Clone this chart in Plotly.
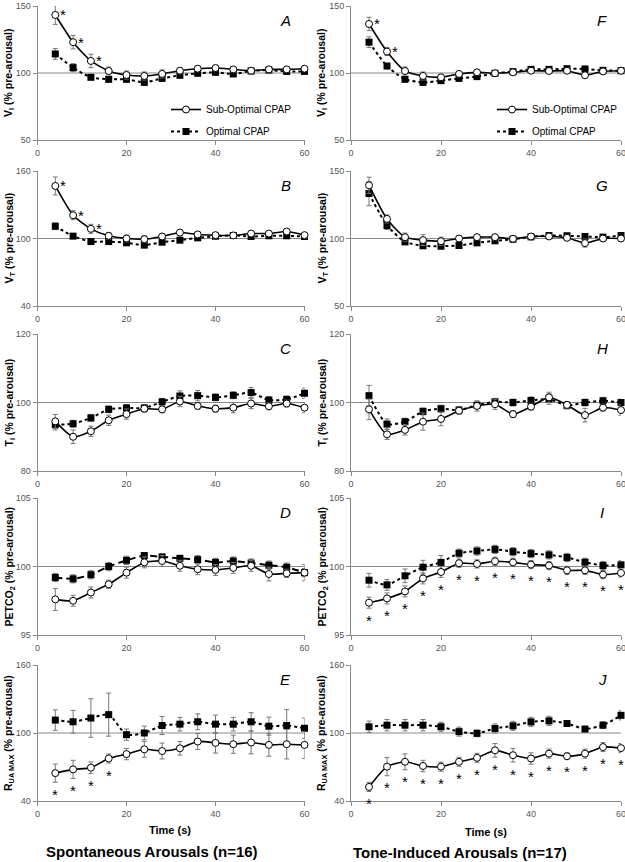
import plotly.graph_objects as go

FONT = "Liberation Sans, Arial, sans-serif"

time_s = [4, 8, 12, 16, 20, 24, 28, 32, 36, 40, 44, 48, 52, 56, 60]
x_ticks = [0, 20, 40, 60]

# ---- Spontaneous arousals (left column) ----
vi_spont_sub = [143.3, 123.0, 109.0, 101.5, 98.5, 97.8, 99.3, 101.7, 103.2, 103.7, 102.7, 101.7, 102.7, 102.7, 103.2]
vi_spont_sub_err = [7, 5, 5, 3, 3, 3, 3, 2, 2, 2, 2, 2, 2, 2, 2]
vi_spont_opt = [114.2, 104.0, 96.8, 95.3, 95.3, 93.0, 96.0, 98.3, 99.8, 100.5, 99.3, 101.5, 102.2, 101.2, 101.2]
vi_spont_opt_err = [4, 3, 2, 2, 2, 2, 2, 2, 2, 2, 2, 2, 2, 2, 2]

vt_spont_sub = [146.7, 120.7, 108.6, 102.4, 100.0, 99.4, 101.8, 105.3, 103.6, 103.0, 102.7, 104.4, 104.4, 106.2, 103.0]
vt_spont_sub_err = [8, 4, 4, 3, 3, 3, 2, 2, 2, 2, 2, 2, 2, 2, 2]
vt_spont_opt = [110.9, 102.1, 97.3, 97.3, 96.2, 94.1, 96.7, 98.5, 100.6, 102.0, 102.7, 101.8, 102.4, 102.4, 101.8]
vt_spont_opt_err = [3, 2, 2, 2, 2, 2, 2, 2, 2, 2, 2, 2, 2, 2, 2]

ti_spont_sub = [94.5, 90.0, 91.6, 94.8, 96.6, 98.2, 98.0, 100.3, 99.0, 98.2, 98.5, 99.7, 98.9, 99.7, 98.5]
ti_spont_sub_err = [2, 2, 1.5, 1.5, 1.5, 1, 1, 1.5, 1, 1, 1.5, 1.5, 1, 1, 1.5]
ti_spont_opt = [93.5, 93.8, 95.5, 98.0, 98.4, 98.4, 100.2, 101.9, 102.0, 101.5, 102.1, 102.9, 100.7, 100.9, 102.7]
ti_spont_opt_err = [1.5, 1, 1, 1, 1, 1, 1, 1.5, 1.5, 1, 1, 1.5, 1, 1, 1.5]

pet_spont_sub = [97.6, 97.5, 98.1, 98.7, 99.55, 100.3, 100.4, 100.05, 99.8, 99.75, 99.9, 100.05, 99.45, 99.5, 99.55]
pet_spont_sub_err = [0.8, 0.4, 0.4, 0.3, 0.4, 0.4, 0.4, 0.4, 0.4, 0.4, 0.4, 0.4, 0.5, 0.3, 0.6]
pet_spont_opt = [99.2, 99.1, 99.4, 100.0, 100.45, 100.8, 100.7, 100.6, 100.5, 100.3, 100.4, 100.25, 100.1, 99.95, 99.55]
pet_spont_opt_err = [0.3, 0.3, 0.3, 0.3, 0.3, 0.2, 0.2, 0.2, 0.3, 0.3, 0.3, 0.3, 0.3, 0.3, 0.3]

rua_spont_sub = [64.6, 67.9, 69.4, 77.5, 81.4, 85.6, 84.1, 86.5, 92.5, 91.3, 90.1, 91.6, 89.5, 90.1, 89.5]
rua_spont_sub_err = [8, 8, 5, 4, 5, 7, 7, 6, 7, 9, 8, 10, 10, 13, 12]
rua_spont_opt = [111.4, 109.9, 113.2, 116.2, 98.5, 100.0, 106.6, 107.8, 109.9, 107.8, 107.8, 109.9, 106.0, 106.6, 104.2]
rua_spont_opt_err = [9, 10, 17, 19, 5, 6, 8, 6, 7, 8, 6, 8, 8, 14, 9]

# ---- Tone-induced arousals (right column) ----
vi_tone_sub = [136.6, 116.0, 101.5, 97.8, 96.8, 99.3, 100.5, 99.8, 100.5, 101.7, 101.5, 101.7, 98.3, 101.2, 101.7]
vi_tone_sub_err = [5, 3, 3, 3, 2, 2, 2, 2, 2, 2, 2, 2, 2, 2, 2]
vi_tone_opt = [123.0, 105.2, 95.3, 93.0, 94.3, 96.0, 97.3, 99.8, 101.0, 102.7, 102.7, 103.2, 103.0, 102.0, 101.7]
vi_tone_opt_err = [4, 2, 2, 2, 2, 2, 2, 2, 2, 2, 2, 2, 2, 2, 2]

vt_tone_sub = [139.4, 114.5, 101.0, 98.8, 98.0, 100.0, 101.0, 101.0, 99.8, 101.5, 101.5, 100.5, 96.6, 100.0, 100.0]
vt_tone_sub_err = [6, 3, 3, 4, 3, 2, 2, 2, 2, 2, 2, 2, 3, 2, 2]
vt_tone_opt = [133.3, 109.6, 97.5, 94.6, 94.3, 94.8, 96.8, 98.3, 99.5, 101.2, 102.2, 102.0, 101.5, 101.0, 102.2]
vt_tone_opt_err = [9, 3, 2, 2, 2, 2, 2, 2, 2, 2, 2, 2, 2, 2, 2]

ti_tone_sub = [98.0, 90.7, 92.0, 94.4, 95.2, 97.6, 99.0, 99.5, 96.6, 98.8, 101.5, 99.3, 96.3, 98.5, 97.8]
ti_tone_sub_err = [3, 1.5, 1.5, 2.5, 2, 1, 1.5, 1.5, 1, 1, 1.5, 1, 2, 1, 1.5]
ti_tone_opt = [102.0, 93.7, 94.4, 97.4, 98.2, 97.8, 99.2, 100.2, 100.0, 100.6, 101.0, 99.1, 100.0, 100.5, 100.0]
ti_tone_opt_err = [3, 1.5, 1, 1, 1, 1, 1, 1, 1, 1, 1.5, 1, 1, 1, 1]

pet_tone_sub = [97.36, 97.67, 98.18, 99.13, 99.6, 100.24, 100.19, 100.38, 100.3, 100.14, 100.07, 99.72, 99.72, 99.41, 99.53]
pet_tone_sub_err = [0.4, 0.4, 0.4, 0.4, 0.4, 0.3, 0.3, 0.3, 0.3, 0.3, 0.3, 0.3, 0.3, 0.3, 0.3]
pet_tone_opt = [99.0, 98.66, 99.32, 99.95, 100.3, 100.97, 101.13, 101.25, 101.08, 100.94, 100.85, 100.66, 100.31, 100.07, 100.12]
pet_tone_opt_err = [0.5, 0.4, 0.5, 0.5, 0.5, 0.3, 0.3, 0.3, 0.3, 0.3, 0.3, 0.3, 0.3, 0.3, 0.3]

rua_tone_sub = [52.4, 70.3, 74.6, 70.9, 70.3, 74.6, 78.1, 84.7, 80.4, 77.5, 81.8, 79.5, 81.8, 87.6, 86.7]
rua_tone_sub_err = [4, 8, 7, 5, 4, 4, 4, 6, 6, 5, 4, 3, 4, 4, 4]
rua_tone_opt = [105.5, 106.9, 106.9, 106.9, 105.5, 101.2, 99.7, 104.0, 106.3, 109.8, 110.7, 108.4, 103.5, 106.9, 115.6]
rua_tone_opt_err = [5, 5, 5, 5, 4, 4, 3, 4, 4, 4, 4, 2, 2, 3, 4]

# significance markers (indices into time_s)
stars_A = [0, 1, 2]
stars_B = [0, 1, 2]
stars_E = [0, 1, 2, 3]
stars_F = [0, 1]
stars_I = list(range(15))
stars_J = list(range(15))

W, H = 625, 862


def px(v):
    return v / W


def py(v):
    return 1 - v / H


col_domains = [[px(37.5), px(304.5)], [px(351), px(621)]]
row_pix = [(6, 140), (171, 306), (334, 471), (498, 635), (665, 801)]
row_domains = [[py(b), py(t)] for t, b in row_pix]

panels = [
    dict(letter="A", col=0, row=0, ylab="V<sub>I</sub> (% pre-arousal)", rng=[50, 150], ticks=[50, 100, 150],
         sub=vi_spont_sub, sube=vi_spont_sub_err, opt=vi_spont_opt, opte=vi_spont_opt_err, stars=stars_A, pos="above", dash="3px,3px", leg="legend"),
    dict(letter="B", col=0, row=1, ylab="V<sub>T</sub> (% pre-arousal)", rng=[40, 160], ticks=[40, 100, 160],
         sub=vt_spont_sub, sube=vt_spont_sub_err, opt=vt_spont_opt, opte=vt_spont_opt_err, stars=stars_B, pos="above", dash="3px,3px", leg=None),
    dict(letter="C", col=0, row=2, ylab="T<sub>I</sub> (% pre-arousal)", rng=[80, 120], ticks=[80, 100, 120],
         sub=ti_spont_sub, sube=ti_spont_sub_err, opt=ti_spont_opt, opte=ti_spont_opt_err, stars=[], pos="below", dash="3px,3px", leg=None),
    dict(letter="D", col=0, row=3, ylab="PETCO<sub>2</sub> (% pre-arousal)", rng=[95, 105], ticks=[95, 100, 105],
         sub=pet_spont_sub, sube=pet_spont_sub_err, opt=pet_spont_opt, opte=pet_spont_opt_err, stars=[], pos="below", dash="7px,4px", leg=None),
    dict(letter="E", col=0, row=4, ylab="R<sub>UA MAX</sub> (% pre-arousal)", rng=[40, 160], ticks=[40, 100, 160],
         sub=rua_spont_sub, sube=rua_spont_sub_err, opt=rua_spont_opt, opte=rua_spont_opt_err, stars=stars_E, pos="below", dash="3px,3px", leg=None),
    dict(letter="F", col=1, row=0, ylab="V<sub>I</sub> (% pre-arousal)", rng=[50, 150], ticks=[50, 100, 150],
         sub=vi_tone_sub, sube=vi_tone_sub_err, opt=vi_tone_opt, opte=vi_tone_opt_err, stars=stars_F, pos="above", dash="3px,3px", leg="legend2"),
    dict(letter="G", col=1, row=1, ylab="V<sub>T</sub> (% pre-arousal)", rng=[50, 150], ticks=[50, 100, 150],
         sub=vt_tone_sub, sube=vt_tone_sub_err, opt=vt_tone_opt, opte=vt_tone_opt_err, stars=[], pos="above", dash="3px,3px", leg=None),
    dict(letter="H", col=1, row=2, ylab="T<sub>I</sub> (% pre-arousal)", rng=[80, 120], ticks=[80, 100, 120],
         sub=ti_tone_sub, sube=ti_tone_sub_err, opt=ti_tone_opt, opte=ti_tone_opt_err, stars=[], pos="below", dash="3px,3px", leg=None),
    dict(letter="I", col=1, row=3, ylab="PETCO<sub>2</sub> (% pre-arousal)", rng=[95, 105], ticks=[95, 100, 105],
         sub=pet_tone_sub, sube=pet_tone_sub_err, opt=pet_tone_opt, opte=pet_tone_opt_err, stars=stars_I, pos="below", dash="3px,3px", leg=None),
    dict(letter="J", col=1, row=4, ylab="R<sub>UA MAX</sub> (% pre-arousal)", rng=[40, 160], ticks=[40, 100, 160],
         sub=rua_tone_sub, sube=rua_tone_sub_err, opt=rua_tone_opt, opte=rua_tone_opt_err, stars=stars_J, pos="below", dash="3px,3px", leg=None),
]

fig = go.Figure()
annotations = []
shapes = []
layout_axes = {}

for i, p in enumerate(panels):
    n = i + 1
    sfx = "" if n == 1 else str(n)
    xs, ys = "x" + sfx, "y" + sfx
    layout_axes["xaxis" + sfx] = dict(
        domain=col_domains[p["col"]], anchor=ys, range=[0, 60], tickvals=x_ticks,
        showline=True, linecolor="#8a8a8a", linewidth=1, ticks="outside", ticklen=4,
        tickcolor="#8a8a8a", showgrid=False, zeroline=False, automargin=False,
        ticklabeloverflow="allow",
        tickfont=dict(size=9, color="#555", family=FONT), fixedrange=True,
    )
    layout_axes["yaxis" + sfx] = dict(
        domain=row_domains[p["row"]], anchor=xs, range=p["rng"], tickvals=p["ticks"],
        showline=True, linecolor="#8a8a8a", linewidth=1, ticks="outside", ticklen=4,
        tickcolor="#8a8a8a", showgrid=False, zeroline=False, automargin=False,
        ticklabeloverflow="allow",
        tickfont=dict(size=9, color="#555", family=FONT), fixedrange=True,
    )
    shapes.append(dict(type="line", xref=xs + " domain", yref=ys, x0=0, x1=1, y0=100, y1=100,
                       line=dict(color="#8a8a8a", width=1), layer="below"))
    show = p["leg"] is not None
    legname = p["leg"] if show else "legend"
    fig.add_trace(go.Scatter(
        x=time_s, y=p["opt"], xaxis=xs, yaxis=ys, name="Optimal CPAP",
        mode="lines+markers", cliponaxis=False,
        error_y=dict(type="data", array=p["opte"], color="#777", thickness=1, width=2.5),
        line=dict(color="black", width=2, dash=p["dash"], shape="spline", smoothing=0.6),
        marker=dict(symbol="square", size=7, color="black", line=dict(width=0)),
        showlegend=show, legend=legname, legendrank=2, legendgroup="opt" + sfx,
    ))
    fig.add_trace(go.Scatter(
        x=time_s, y=p["sub"], xaxis=xs, yaxis=ys, name="Sub-Optimal CPAP",
        mode="lines+markers", cliponaxis=False,
        error_y=dict(type="data", array=p["sube"], color="#777", thickness=1, width=2.5),
        line=dict(color="black", width=1.6, shape="spline", smoothing=0.6),
        marker=dict(symbol="circle", size=7, color="white", line=dict(color="black", width=1)),
        showlegend=show, legend=legname, legendrank=1, legendgroup="sub" + sfx,
    ))
    # panel letter
    annotations.append(dict(text="<i>%s</i>" % p["letter"], xref=xs + " domain", yref=ys + " domain",
                            x=0.93, y=0.895, xanchor="center", yanchor="middle", showarrow=False,
                            font=dict(size=15, color="black", family=FONT)))
    # y title
    xc = 9 if p["col"] == 0 else 322
    t, b = row_pix[p["row"]]
    annotations.append(dict(text="<b>%s</b>" % p["ylab"], xref="paper", yref="paper",
                            x=px(xc), y=py((t + b) / 2), textangle=-90, showarrow=False,
                            xanchor="center", yanchor="middle",
                            font=dict(size=10.5, color="black", family=FONT)))
    # significance stars
    for k in p["stars"]:
        if p["pos"] == "above":
            annotations.append(dict(text="*", xref=xs, yref=ys, x=time_s[k], y=p["sub"][k],
                                    xshift=8, yshift=0, showarrow=False, xanchor="center", yanchor="middle",
                                    font=dict(size=15, color="black", family=FONT)))
        else:
            annotations.append(dict(text="*", xref=xs, yref=ys, x=time_s[k], y=p["sub"][k] - p["sube"][k],
                                    xshift=0, yshift=-12, showarrow=False, xanchor="center", yanchor="middle",
                                    font=dict(size=15, color="black", family=FONT)))

# bottom labels
for xc, yc, txt, sz in [(170, 830, "Time (s)", 11), (486, 832, "Time (s)", 11),
                        (152, 851, "Spontaneous Arousals (n=16)", 15),
                        (460, 852, "Tone-Induced Arousals (n=17)", 15)]:
    annotations.append(dict(text="<b>%s</b>" % txt, xref="paper", yref="paper", x=px(xc), y=py(yc),
                            xanchor="center", yanchor="middle",
                            showarrow=False, font=dict(size=sz, color="black", family=FONT)))

leg_common = dict(xanchor="left", yanchor="top", bgcolor="rgba(0,0,0,0)", itemwidth=30,
                  font=dict(size=10, color="black", family=FONT), traceorder="grouped", tracegroupgap=3)

fig.update_layout(
    width=W, height=H, margin=dict(l=0, r=0, t=0, b=0),
    paper_bgcolor="white", plot_bgcolor="white",
    font=dict(family=FONT),
    annotations=annotations, shapes=shapes,
    legend=dict(x=px(166), y=py(95), **leg_common),
    legend2=dict(x=px(492), y=py(95), **leg_common),
    **layout_axes,
)

fig.write_html("out.html", config={"displayModeBar": False},
               post_script="document.body.style.margin='0px';document.body.style.overflow='hidden';")
